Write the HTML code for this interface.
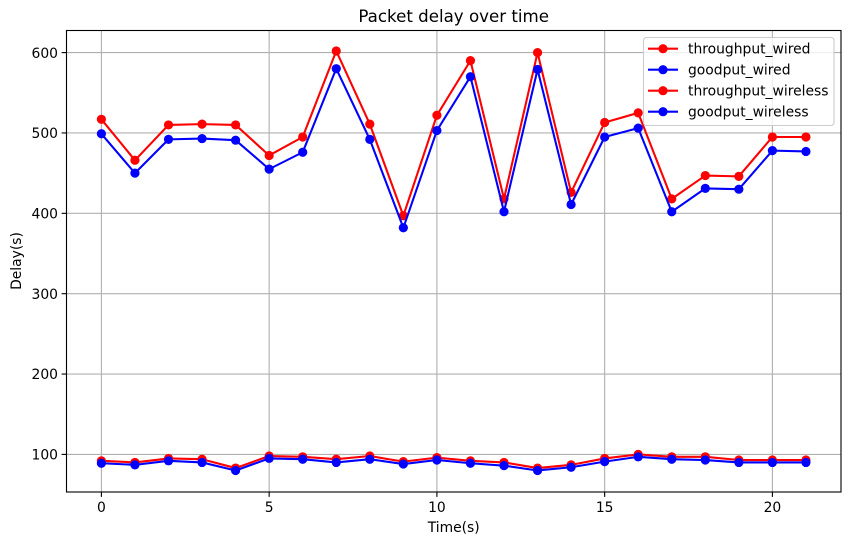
<!DOCTYPE html>
<html>
<head>
<meta charset="utf-8">
<style>
html,body{margin:0;padding:0;background:#fff;}
svg{display:block;}
text{font-family:"DejaVu Sans","Liberation Sans",sans-serif;fill:#000;}
</style>
</head>
<body>
<svg id="chart" xmlns="http://www.w3.org/2000/svg" width="850" height="545" viewBox="0 0 850 545"></svg>
<script>
const xValues = [0,1,2,3,4,5,6,7,8,9,10,11,12,13,14,15,16,17,18,19,20,21];
const throughputWired = [517,466,510,511,510,472,495,602,511,397,522,590,418,600,426,513,525,418,447,446,495,495];
const goodputWired = [499,450,492,493,491,455,476,580,492,382,503,570,402,579,411,495,506,402,431,430,478,477];
const throughputWireless = [92,90,95,94,83,98,97,94,98,91,96,92,90,83,87,95,100,97,97,93,93,93];
const goodputWireless = [89,87,92,90,80,95,94,90,94,88,93,89,86,80,84,91,97,94,93,90,90,90];
const xTicks = [0,5,10,15,20];
const yTicks = [100,200,300,400,500,600];
const seriesNames = ['throughput_wired','goodput_wired','throughput_wireless','goodput_wireless'];
const seriesColors = ['#ff0000','#0000ff','#ff0000','#0000ff'];
const seriesValues = [throughputWired,goodputWired,throughputWireless,goodputWireless];

const NS = 'http://www.w3.org/2000/svg';
const svg = document.getElementById('chart');
const left = 66.5, right = 841, top_ = 30.5, bottom = 492;
function sx(v){ return 101.4 + v * 33.55; }
function sy(v){ return 454.4 - (v - 100) * 0.8036; }
function make(tag, attrs, parent){
  const el = document.createElementNS(NS, tag);
  for (const k in attrs) el.setAttribute(k, attrs[k]);
  (parent || svg).appendChild(el);
  return el;
}
function slug(s){ return s.replace(/_/g,'-'); }

const grid = make('g', {});


xTicks.forEach(function(t){
  const l = make('line', {x1:sx(t),x2:sx(t),y1:top_,y2:bottom,stroke:'#b0b0b0','stroke-width':1.11}, grid);
  
  
});
yTicks.forEach(function(t){
  const l = make('line', {x1:left,x2:right,y1:sy(t),y2:sy(t),stroke:'#b0b0b0','stroke-width':1.11}, grid);
  
  
});

seriesValues.forEach(function(vals, i){
  const g = make('g', {});
  
  
  const pts = vals.map(function(v, j){ return sx(xValues[j]) + ',' + sy(v); }).join(' ');
  const line = make('polyline', {points:pts,fill:'none',stroke:seriesColors[i],'stroke-width':2.08,'stroke-linejoin':'round'}, g);
  
  
  vals.forEach(function(v, j){
    const c = make('circle', {cx:sx(xValues[j]),cy:sy(v),r:4.6,fill:seriesColors[i]}, g);
    
    
  });
});

const frame = make('rect', {x:left,y:top_,width:right-left,height:bottom-top_,fill:'none',stroke:'#000','stroke-width':1.11});



xTicks.forEach(function(t){
  const m = make('line', {x1:sx(t),x2:sx(t),y1:bottom,y2:bottom+4.9,stroke:'#000','stroke-width':1.11});
  
  
  const l = make('text', {x:sx(t),y:512,'text-anchor':'middle','font-size':13.89});
  l.textContent = t;
  
  
});
yTicks.forEach(function(t){
  const m = make('line', {x1:left-4.9,x2:left,y1:sy(t),y2:sy(t),stroke:'#000','stroke-width':1.11});
  
  
  const l = make('text', {x:left-8.5,y:sy(t)+5.2,'text-anchor':'end','font-size':13.89});
  l.textContent = t;
  
  
});

const title = make('text', {x:453.7,y:22,'text-anchor':'middle','font-size':16.67});
title.textContent = 'Packet delay over time';



const xTitle = make('text', {x:453.7,y:532,'text-anchor':'middle','font-size':13.89});
xTitle.textContent = 'Time(s)';



const yTitle = make('text', {x:0,y:0,'text-anchor':'middle','font-size':13.89,transform:'translate(21,261) rotate(-90)'});
yTitle.textContent = 'Delay(s)';



const legend = make('g', {});


const legendBox = make('rect', {x:643.5,y:37.5,width:190.5,height:88,rx:3,ry:3,fill:'#fff','fill-opacity':0.8,stroke:'#cccccc','stroke-width':1.11}, legend);


seriesNames.forEach(function(name, i){
  const y = 48.7 + i * 21;
  const e = make('g', {}, legend);
  
  
  make('line', {x1:648,x2:678,y1:y,y2:y,stroke:seriesColors[i],'stroke-width':2.08}, e);
  make('circle', {cx:663,cy:y,r:4.6,fill:seriesColors[i]}, e);
  const t = make('text', {x:688,y:y+4.8,'font-size':13.89}, e);
  t.textContent = name;
});
</script>
</body>
</html>
